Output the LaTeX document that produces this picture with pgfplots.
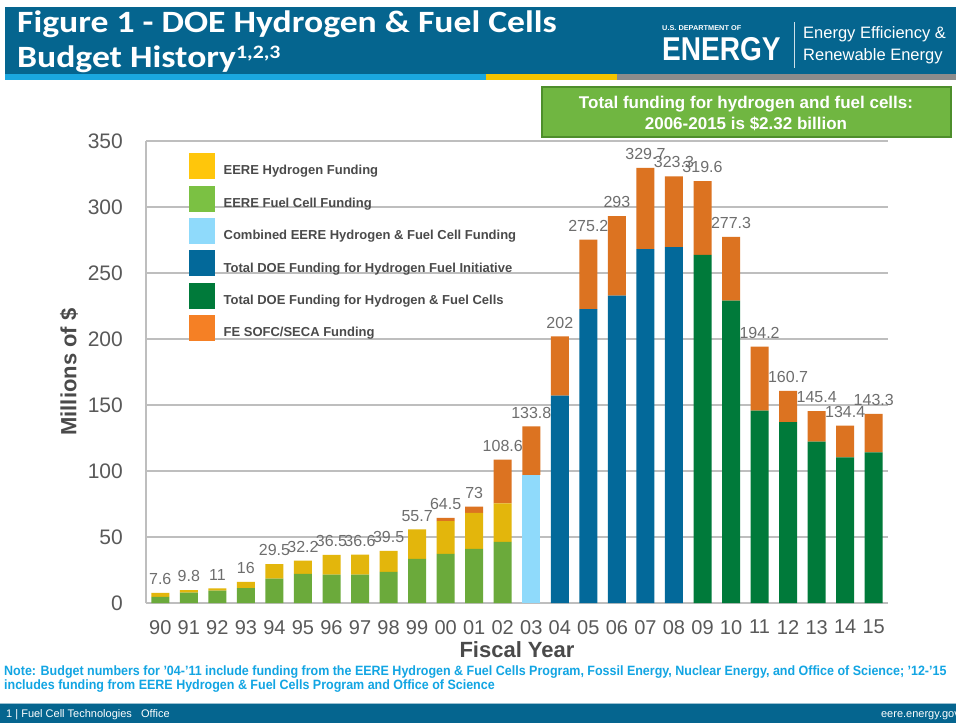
\documentclass[border=0pt]{standalone}
\usepackage{fontspec}
\setmainfont{Liberation Sans}
\newfontfamily\carlito{Carlito}
\usepackage{pgfplots}
\pgfplotsset{compat=1.18}
\usepackage{pgfplotstable}

\definecolor{hdrblue}{HTML}{05658F}
\definecolor{stripeblue}{HTML}{1AA7E0}
\definecolor{stripeyel}{HTML}{F5C400}
\definecolor{stripegray}{HTML}{8C8C8C}
\definecolor{boxgreen}{HTML}{70B641}
\definecolor{boxedge}{HTML}{4E8E2B}
\definecolor{cG}{HTML}{6BAA3B}
\definecolor{cY}{HTML}{E3B60C}
\definecolor{cLB}{HTML}{8FDAFB}
\definecolor{cB}{HTML}{03699A}
\definecolor{cDG}{HTML}{007A3A}
\definecolor{cO}{HTML}{DC7321}
\definecolor{lY}{HTML}{FFC60B}
\definecolor{lG}{HTML}{7BC143}
\definecolor{lO}{HTML}{F58025}
\definecolor{gridc}{HTML}{BEBEBE}
\definecolor{tickc}{HTML}{595959}
\definecolor{labc}{HTML}{6E6E6E}
\definecolor{legc}{HTML}{4A4A4A}
\definecolor{notec}{HTML}{12A5E3}

\pgfplotstableread{
x g y lb b dg o lab
0 4.6 3.0 0 0 0 0 7.6
1 7.8 2.0 0 0 0 0 9.8
2 9.3 1.7 0 0 0 0 11
3 11.3 4.7 0 0 0 0 16
4 18.5 11.0 0 0 0 0 29.5
5 22.0 10.2 0 0 0 0 32.2
6 21.5 15.0 0 0 0 0 36.5
7 21.5 15.1 0 0 0 0 36.6
8 23.5 16.0 0 0 0 0 39.5
9 33.4 22.3 0 0 0 0 55.7
10 37.2 24.9 0 0 0 2.4 64.5
11 41.0 27.2 0 0 0 4.8 73
12 46.3 29.2 0 0 0 33.1 108.6
13 0 0 97.1 0 0 36.7 133.8
14 0 0 0 157.2 0 44.8 202
15 0 0 0 222.7 0 52.5 275.2
16 0 0 0 232.9 0 60.1 293
17 0 0 0 268.1 0 61.6 329.7
18 0 0 0 269.6 0 53.7 323.3
19 0 0 0 0 263.8 55.8 319.6
20 0 0 0 0 229.0 48.3 277.3
21 0 0 0 0 145.8 48.4 194.2
22 0 0 0 0 137.0 23.7 160.7
23 0 0 0 0 122.2 23.2 145.4
24 0 0 0 0 110.3 24.1 134.4
25 0 0 0 0 114.1 29.2 143.3
}\budget

\begin{document}
\begin{tikzpicture}[x=1pt,y=1pt]
\useasboundingbox (0,0) rectangle (956,-723);
\fill[white] (0,0) rectangle (956,-723);
% header
\fill[hdrblue] (5,-7) rectangle (956,-74);
\fill[stripeblue] (5,-74) rectangle (486,-80);
\fill[stripeyel] (486,-74) rectangle (617,-80);
\fill[stripegray] (617,-74) rectangle (956,-80);
\node[anchor=base west, inner sep=0, text=white, font=\carlito\bfseries\fontsize{31}{31}\selectfont] at (17,-32) {\scalebox{1.15}[1]{Figure 1 - DOE Hydrogen \& Fuel Cells}};
\node[anchor=base west, inner sep=0, text=white, font=\carlito\bfseries\fontsize{31}{31}\selectfont] at (17,-67) {\scalebox{1.15}[1]{Budget History\raisebox{9pt}{\fontsize{19}{19}\selectfont 1,2,3}}};
\node[anchor=base west, inner sep=0, text=white, font=\bfseries\fontsize{7}{7}\selectfont] at (662,-30) {\scalebox{1.05}[1]{U.S. DEPARTMENT OF}};
\node[anchor=base west, inner sep=0, text=white, font=\bfseries\fontsize{33}{33}\selectfont] at (662,-60) {\scalebox{0.85}[1]{ENERGY}};
\draw[white!80!hdrblue, line width=1pt] (794,-22) -- (794,-68);
\node[anchor=base west, inner sep=0, text=white, font=\fontsize{16.5}{16.5}\selectfont] at (803,-38) {Energy Efficiency \&};
\node[anchor=base west, inner sep=0, text=white, font=\fontsize{16.5}{16.5}\selectfont] at (803,-60) {Renewable Energy};
% green box
\filldraw[fill=boxgreen, draw=boxedge, line width=1.5pt] (542,-87) rectangle (951,-137);
\node[anchor=base, inner sep=0, text=white, font=\bfseries\fontsize{17}{17}\selectfont] at (746,-108) {Total funding for hydrogen and fuel cells:};
\node[anchor=base, inner sep=0, text=white, font=\bfseries\fontsize{17}{17}\selectfont] at (746,-129) {2006-2015 is \$2.32 billion};
% note
\node[anchor=base west, inner sep=0, text=notec, font=\bfseries\fontsize{13.5}{13.5}\selectfont] at (4,-675) {\scalebox{0.925}[1]{Note: Budget numbers for '04-'11 include funding from the EERE Hydrogen \& Fuel Cells Program, Fossil Energy, Nuclear Energy, and Office of Science; '12-'15}};
\node[anchor=base west, inner sep=0, text=notec, font=\bfseries\fontsize{13.5}{13.5}\selectfont] at (4,-689) {\scalebox{0.925}[1]{includes funding from EERE Hydrogen \& Fuel Cells Program and Office of Science}};
% footer
\fill[hdrblue] (0,-703) rectangle (956,-723);
\draw[white!60!hdrblue, line width=1pt] (0,-703) -- (956,-703);
\node[anchor=base west, inner sep=0, text=white, font=\fontsize{11}{11}\selectfont] at (6,-717) {1 | Fuel Cell Technologies\ \ \ Office};
\node[anchor=base east, inner sep=0, text=white, font=\fontsize{11}{11}\selectfont] at (960,-717) {eere.energy.gov};

\pgfplotsset{
  commonaxis/.style={
    at={(146pt,-603pt)}, anchor=south west,
    scale only axis, width=742pt, height=462pt,
    xmin=-0.5, xmax=25.5, ymin=0, ymax=350, clip=false,
  }
}
\begin{axis}[
  commonaxis,
  ybar stacked, bar width=18pt,
  xtick={0,...,25},
  xticklabels={90,91,92,93,94,95,96,97,98,99,00,01,02,03,04,05,06,07,08,09,10,11,12,13,14,15},
  ytick={0,50,...,350},
  /pgf/number format/assume math mode=true,
  ymajorgrids, grid style={gridc, line width=1.2pt},
  axis x line*=bottom, axis y line*=left,
  axis line style={gridc, line width=1.2pt, -},
  major tick length=0pt, tick style={draw=none},
  yticklabel style={font=\fontsize{21}{21}\selectfont, text=tickc, anchor=east, inner sep=0pt, xshift=-23pt},
  xticklabel style={font=\fontsize{20}{20}\selectfont, text=tickc, anchor=north, inner sep=0pt, yshift=-17pt},
  ylabel={Millions of \$},
  ylabel style={font=\bfseries\fontsize{22}{22}\selectfont, text=legc, at={(axis description cs:-0.1038,0.5)}, anchor=center},
  xlabel={Fiscal Year},
  xlabel style={font=\bfseries\fontsize{22}{22}\selectfont, text=legc, at={(axis description cs:0.5,-0.1017)}, anchor=center},
  legend style={at={(axis description cs:0.058,0.974)}, anchor=north west, draw=none, fill=none, inner sep=0pt, row sep=7pt,
    font=\bfseries\fontsize{13}{13}\selectfont, text=legc,
    nodes={inner sep=0pt},
    /tikz/every odd column/.append style={column sep=9pt}},
  legend cell align=left,
]
\addlegendimage{legend image code/.code={\fill[lY] (0pt,-7.5pt) rectangle (25pt,17.5pt);}}
\addlegendimage{legend image code/.code={\fill[lG] (0pt,-7.5pt) rectangle (25pt,17.5pt);}}
\addlegendimage{legend image code/.code={\fill[cLB] (0pt,-7.5pt) rectangle (25pt,17.5pt);}}
\addlegendimage{legend image code/.code={\fill[cB] (0pt,-7.5pt) rectangle (25pt,17.5pt);}}
\addlegendimage{legend image code/.code={\fill[cDG] (0pt,-7.5pt) rectangle (25pt,17.5pt);}}
\addlegendimage{legend image code/.code={\fill[lO] (0pt,-7.5pt) rectangle (25pt,17.5pt);}}
\addlegendentry{EERE Hydrogen Funding}
\addlegendentry{EERE Fuel Cell Funding}
\addlegendentry{Combined EERE Hydrogen \& Fuel Cell Funding}
\addlegendentry{Total DOE Funding for Hydrogen Fuel Initiative}
\addlegendentry{Total DOE Funding for Hydrogen \& Fuel Cells}
\addlegendentry{FE SOFC/SECA Funding}
\addplot[fill=cG, draw=none] table[x=x,y=g]{\budget};
\addplot[fill=cY, draw=none] table[x=x,y=y]{\budget};
\addplot[fill=cLB, draw=none] table[x=x,y=lb]{\budget};
\addplot[fill=cB, draw=none] table[x=x,y=b]{\budget};
\addplot[fill=cDG, draw=none] table[x=x,y=dg]{\budget};
\addplot[fill=cO, draw=none] table[x=x,y=o]{\budget};
\end{axis}
\begin{axis}[commonaxis, hide axis,
  every node near coord/.append style={font=\fontsize{16}{16}\selectfont, text=labc, inner sep=0pt, anchor=south, yshift=8pt}]
\addplot[draw=none, mark=none, nodes near coords, point meta=explicit symbolic] table[x=x,y=lab,meta=lab]{\budget};
\end{axis}
\end{tikzpicture}
\end{document}
